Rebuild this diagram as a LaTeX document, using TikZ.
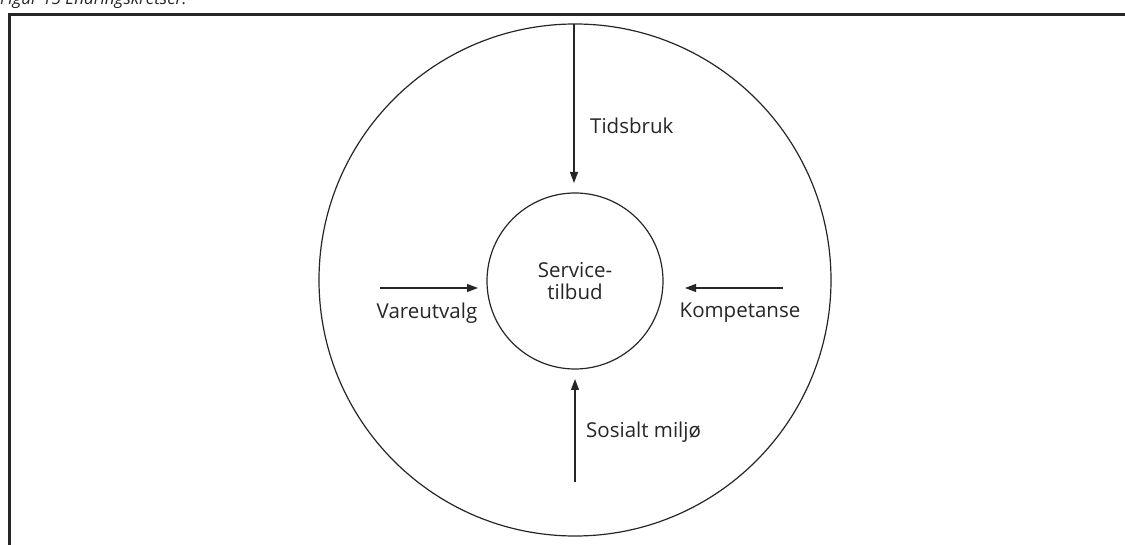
\documentclass[tikz,border=0pt]{standalone}
\usepackage{fontspec}
\setmainfont{Open Sans}
\usetikzlibrary{arrows.meta}
\begin{document}
\begin{tikzpicture}[x=1pt,y=-1pt,
  ring/.style={draw=black!85,line width=1.2pt},
  lbl/.style={font=\fontsize{20.5}{24}\selectfont,text=black!85,inner sep=0pt},
  arr/.style={draw=black!85,line width=1.2pt,-{Triangle[length=11pt,width=8pt]}}]
\useasboundingbox (0,0) rectangle (1125,545);
\begin{scope}
\clip (0,0) rectangle (1125,545);
\node[anchor=base west,inner sep=0pt,text=black!85,font=\fontsize{17}{20}\selectfont\itshape] (cap) at (0,4.5) {Figur 15 Endringskretser.};
\draw[draw=black!85,line width=3pt] (9,560) -- (9,14.5) -- (1140,14.5);
\end{scope}
\node[ring,circle,minimum size=512pt,inner sep=0pt] (outer) at (575,280) {};
\node[ring,circle,minimum size=176pt,inner sep=0pt,align=center,font=\fontsize{20.5}{22}\selectfont,text=black!85] (inner) at (575,281) {Service-\\tilbud};
\coordinate (tS) at (574,24);
\coordinate (tE) at (574,183);
\coordinate (bS) at (575,482);
\coordinate (bE) at (575,379);
\coordinate (lS) at (380,288);
\coordinate (lE) at (478,288);
\coordinate (rS) at (783,288);
\coordinate (rE) at (685,288);
\draw[arr] (tS) -- (tE);
\draw[arr] (bS) -- (bE);
\draw[arr] (lS) -- (lE);
\draw[arr] (rS) -- (rE);
\node[lbl,anchor=west] (tid) at (590,126) {Tidsbruk};
\node[lbl,anchor=west] (sos) at (586,432) {Sosialt miljø};
\node[lbl] (var) at (427,313) {Vareutvalg};
\node[lbl] (kom) at (740,313) {Kompetanse};
\end{tikzpicture}
\end{document}
